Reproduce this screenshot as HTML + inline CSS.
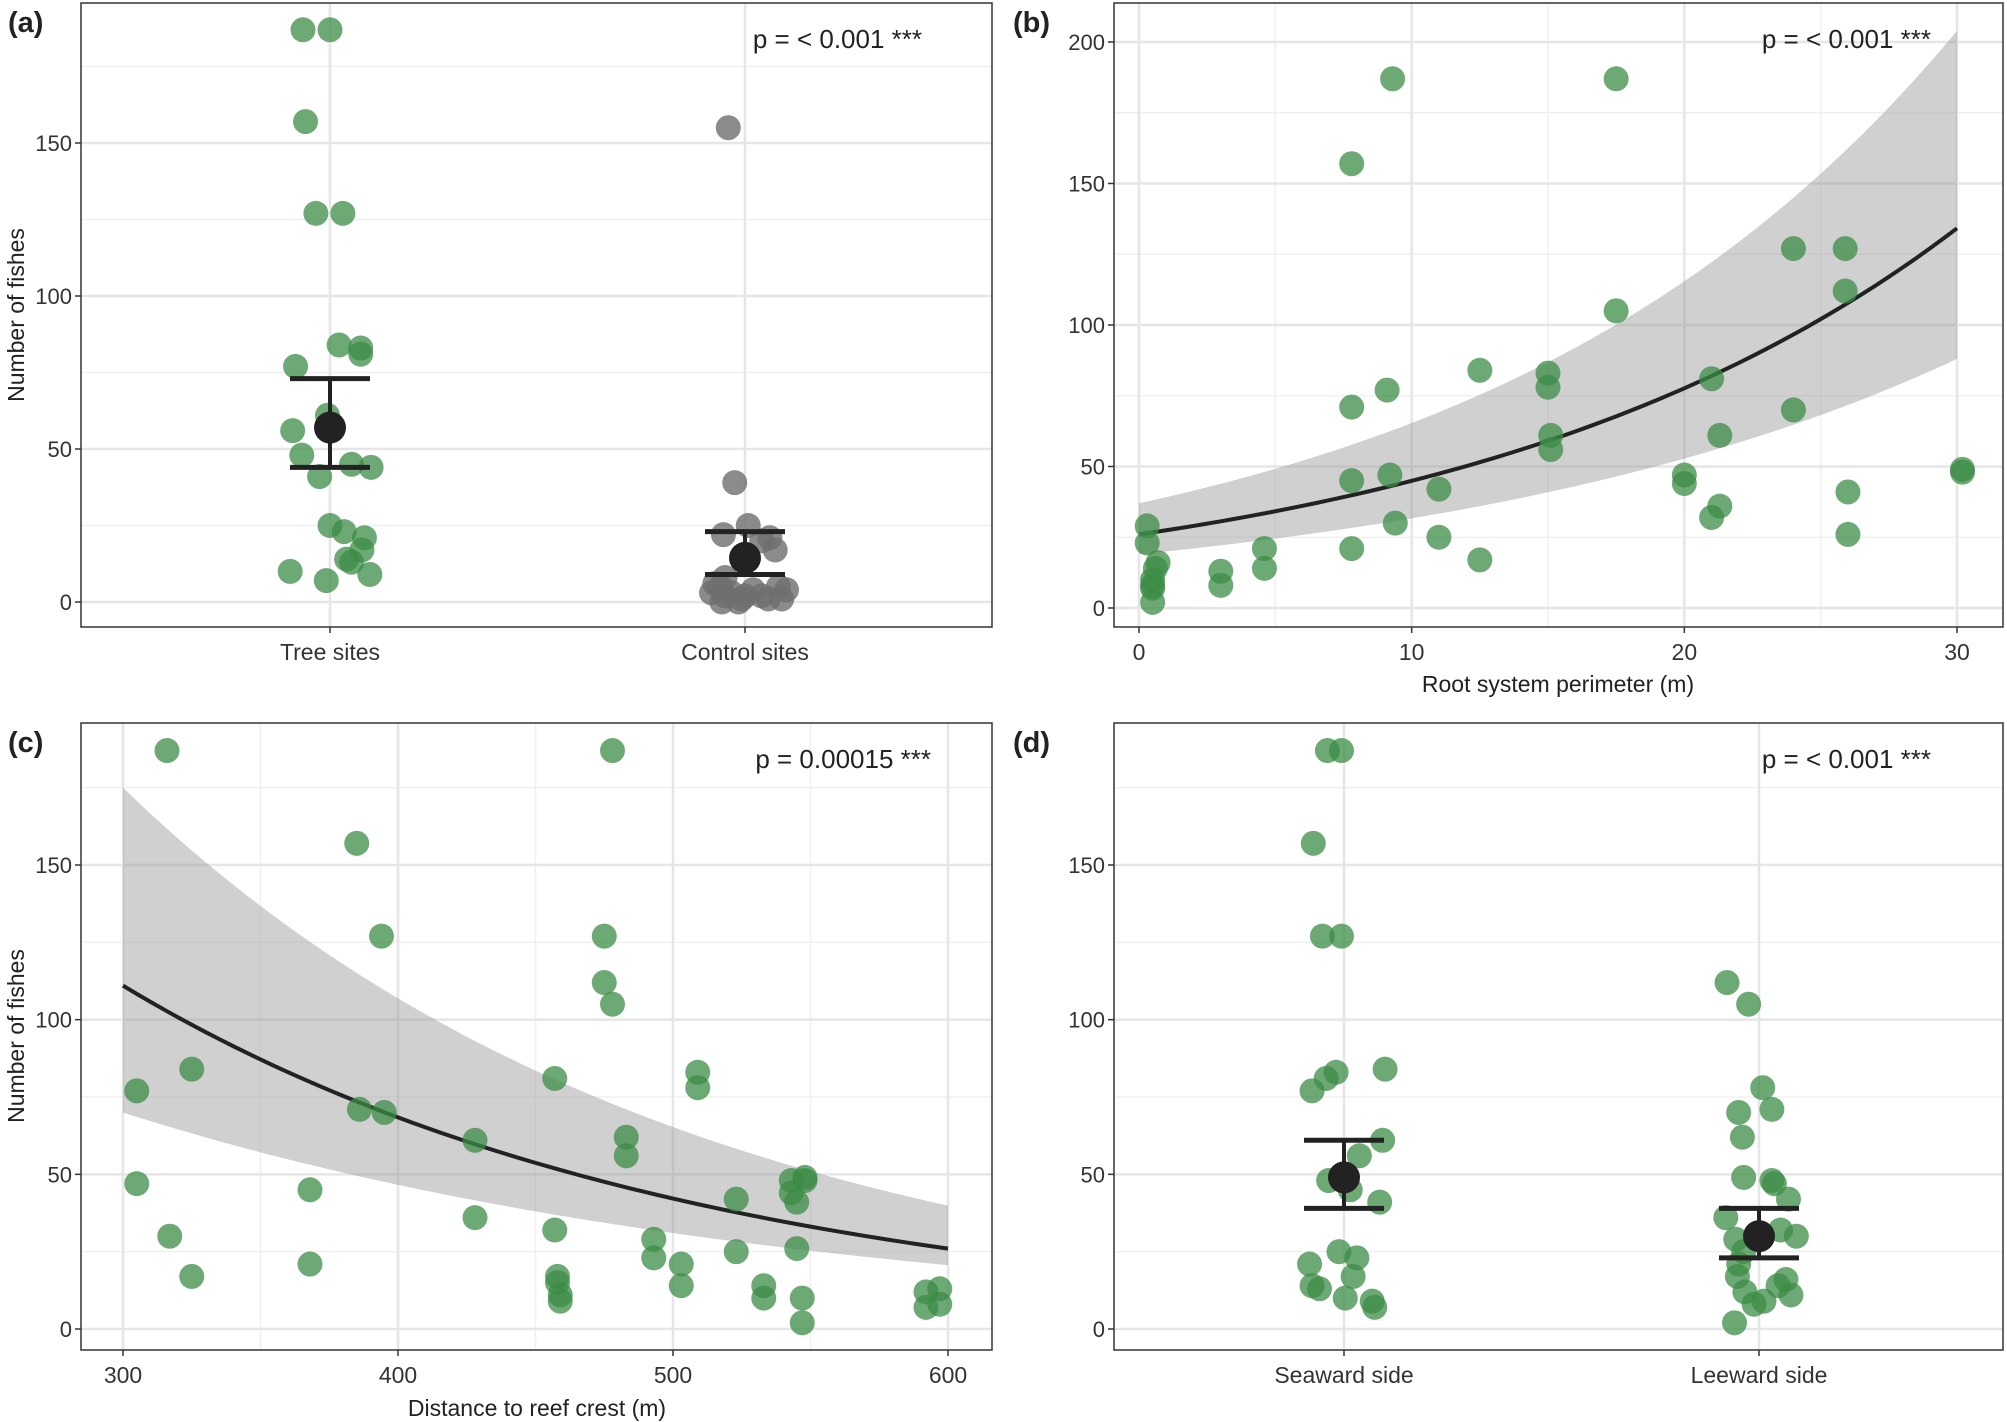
<!DOCTYPE html>
<html><head><meta charset="utf-8"><style>
body{margin:0;background:#fff}
svg{display:block;font-family:"Liberation Sans",sans-serif}
</style></head><body>
<svg id="fig" width="2007" height="1422" viewBox="0 0 2007 1422"></svg>
<script>
// ---- data ----
const treeVals=[187,187,157,127,127,84,83,81,77,61,56,48,45,44,41,25,23,21,17,14,13,10,9,7];
const treeJit=[-.065,0,-.059,-.034,.031,.022,.074,.074,-.083,-.006,-.09,-.068,.052,.099,-.025,0,.034,.083,.077,.04,.052,-.096,.096,-.009];
const ctrlVals=[155,39,25,22,21,20,17,8,5,5,4,3,3,2,2,2,1,1,0,0,1,4,6];
const ctrlJit=[-.031,-.019,.006,-.04,.046,.031,.056,-.037,-.046,.062,.015,-.062,-.025,.031,0,-.037,.043,.068,-.043,-.012,-.006,.077,-.056];
const treeStats=[57,44,73]; const ctrlStats=[14.4,9,23];
const rootX=[0.3,0.3,0.7,0.6,0.5,0.5,0.5,0.5,3,3,4.6,4.6,7.8,7.8,7.8,7.8,9.3,9.1,9.2,9.4,11,11,12.5,12.5,15,15,15.1,15.1,17.5,17.5,20,20,21,21,21.3,21.3,24,24,25.9,25.9,26,26,30.2,30.2];
const rootY=[29,23,16,14,10,8,7,2,13,8,21,14,157,71,45,21,187,77,47,30,42,25,84,17,83,78,61,56,187,105,47,44,81,32,61,36,127,70,127,112,41,26,49,48];
const rootFit=[26,0.0547]; const rootLo=[19,0.0511]; const rootHi=[37,0.0569];
const distX=[305,305,316,317,325,325,368,368,385,386,394,395,428,428,457,457,458,458,459,459,475,475,478,478,483,483,493,493,503,503,509,509,523,523,533,533,543,543,545,545,547,547,548,548,592,592,597,597];
const distY=[77,47,187,30,84,17,45,21,157,71,127,70,61,36,81,32,17,15,11,9,127,112,187,105,62,56,29,23,21,14,83,78,42,25,14,10,48,44,41,26,10,2,49,48,12,7,13,8];
const distFit=[111,-0.00484]; const distLo=[70,-0.00407]; const distHi=[175,-0.00493];
const seaVals=[187,187,157,127,127,84,83,81,77,61,56,48,45,41,25,23,21,17,14,13,10,9,7];
const seaJit=[-.04,-.006,-.074,-.052,-.006,.099,-.019,-.043,-.077,.093,.037,-.037,.015,.086,-.012,.031,-.083,.022,-.077,-.059,.003,.068,.074];
const leeVals=[112,105,78,71,70,62,49,48,47,42,36,32,30,29,25,21,17,16,14,12,11,9,8,2];
const leeJit=[-.077,-.025,.009,.031,-.049,-.04,-.037,.031,.037,.071,-.08,.052,.09,-.056,-.037,-.049,-.052,.065,.046,-.034,.077,.012,-.012,-.059];
const seaStats=[49,39,61]; const leeStats=[30,23,39];

const NS="http://www.w3.org/2000/svg"; const svg=document.getElementById('fig');
function el(t,a,p){const e=document.createElementNS(NS,t);for(const k in a)e.setAttribute(k,a[k]);(p||svg).appendChild(e);return e;}
function txt(s,a,p){const e=el('text',a,p);e.textContent=s;return e;}
const GREEN='rgba(60,140,70,0.75)', GRAY='rgba(110,110,110,0.8)';

function panel(name,L,R,T,B,x0,x1,xmin,xmax,y0,y1,ymin,ymax){
  const g=el('g',{});
  const sx=v=>x0+(v-xmin)*(x1-x0)/(xmax-xmin);
  const sy=v=>y0+(v-ymin)*(y1-y0)/(ymax-ymin);
  return {g,sx,sy,L,R,T,B};
}
function frame(P,yt,ymn,xt,xmn,xl){
  const {g,sx,sy,L,R,T,B}=P;
  ymn.forEach(v=>el('line',{x1:L,x2:R,y1:sy(v),y2:sy(v),stroke:'#f0f0f0','stroke-width':1.5},g));
  xmn.forEach(v=>el('line',{x1:sx(v),x2:sx(v),y1:T,y2:B,stroke:'#f0f0f0','stroke-width':1.5},g));
  yt.forEach(v=>{el('line',{x1:L,x2:R,y1:sy(v),y2:sy(v),stroke:'#e6e6e6','stroke-width':2.5},g);
    el('line',{x1:L-6,x2:L,y1:sy(v),y2:sy(v),stroke:'#333','stroke-width':1.5},g);
    const t=txt(String(v),{x:L-9,y:sy(v)+8,'text-anchor':'end','font-size':22,fill:'#333'},g);
    });
  xt.forEach((v,i)=>{el('line',{x1:sx(v),x2:sx(v),y1:T,y2:B,stroke:'#e6e6e6','stroke-width':2.5},g);
    el('line',{x1:sx(v),x2:sx(v),y1:B,y2:B+6,stroke:'#333','stroke-width':1.5},g);
    const t=txt(xl?xl[i]:String(v),{x:sx(v),y:B+33,'text-anchor':'middle','font-size':23,fill:'#333'},g);
    });
}
function border(P){el('rect',{x:P.L,y:P.T,width:P.R-P.L,height:P.B-P.T,fill:'none',stroke:'#333','stroke-width':1.5},P.g);}
function dots(P,xs,ys,col,nm){xs.forEach((x,i)=>{const c=el('circle',{cx:P.sx(x),cy:P.sy(ys[i]),r:12.5,fill:col},P.g);
  });}
function meanbar(P,cx,st){const g=P.g;const x=P.sx(cx);
  el('line',{x1:x,x2:x,y1:P.sy(st[1]),y2:P.sy(st[2]),stroke:'#222','stroke-width':4},g);
  [st[1],st[2]].forEach(v=>el('line',{x1:x-40,x2:x+40,y1:P.sy(v),y2:P.sy(v),stroke:'#222','stroke-width':5},g));
  const c=el('circle',{cx:x,cy:P.sy(st[0]),r:16,fill:'#222'},g);
  }
function fitcurve(P,xmin,xmax,fit,lo,hi,x0){
  const N=60,up=[],dn=[],ln=[];
  for(let i=0;i<=N;i++){const x=xmin+(xmax-xmin)*i/N;const d=x-x0;
    up.push(P.sx(x)+','+P.sy(hi[0]*Math.exp(hi[1]*d)));dn.push(P.sx(x)+','+P.sy(lo[0]*Math.exp(lo[1]*d)));
    ln.push(P.sx(x)+','+P.sy(fit[0]*Math.exp(fit[1]*d)));}
  const b=el('polygon',{points:up.concat(dn.reverse()).join(' '),fill:'rgba(150,150,150,0.45)'},P.g);
  
  const l=el('polyline',{points:ln.join(' '),fill:'none',stroke:'#222','stroke-width':4},P.g);
  }
function label(s,x,y){const t=txt(s,{x:x,y:y,'font-size':29,'font-weight':'bold',fill:'#222'});
  }
function ptext(s,x,y){const t=txt(s,{x:x,y:y,'font-size':26,fill:'#222','text-anchor':'end'});
  }
function ytitle(x,y){const t=txt('Number of fishes',{x:0,y:0,'font-size':23,fill:'#222','text-anchor':'middle',transform:`translate(${x},${y}) rotate(-90)`});
  }
function xtitle(s,x,y){const t=txt(s,{x:x,y:y,'font-size':23,fill:'#222','text-anchor':'middle'});
  }

// (a)
let A=panel('panel-a',81,992,3,627,330,745,1,2,602,143,0,150);
frame(A,[0,50,100,150],[25,75,125,175],[1,2],[],['Tree sites','Control sites']);
dots(A,treeJit.map(j=>1+j),treeVals,GREEN,'tree-site-point');
dots(A,ctrlJit.map(j=>2+j*1.3),ctrlVals,GRAY,'control-site-point');
meanbar(A,1,treeStats);meanbar(A,2,ctrlStats);border(A);
label('(a)',8,32);ptext('p = < 0.001 ***',922,48);ytitle(24,315);

// (b)
let Bp=panel('panel-b',1114,2003,3,627,1139,1957,0,30,608,42,0,200);
frame(Bp,[0,50,100,150,200],[25,75,125,175],[0,10,20,30],[5,15,25]);
fitcurve(Bp,0,30,rootFit,rootLo,rootHi,0);
dots(Bp,rootX,rootY,GREEN,'root-point');border(Bp);
label('(b)',1013,32);ptext('p = < 0.001 ***',1931,48);xtitle('Root system perimeter (m)',1558,692);

// (c)
let C=panel('panel-c',81,992,723,1350,123,948,300,600,1329,865,0,150);
frame(C,[0,50,100,150],[25,75,125,175],[300,400,500,600],[350,450,550]);
fitcurve(C,300,600,distFit,distLo,distHi,300);
dots(C,distX,distY,GREEN,'distance-point');border(C);
label('(c)',8,752);ptext('p = 0.00015 ***',931,768);ytitle(24,1036);xtitle('Distance to reef crest (m)',537,1416);

// (d)
let D=panel('panel-d',1114,2003,723,1350,1344,1759,1,2,1329,865,0,150);
frame(D,[0,50,100,150],[25,75,125,175],[1,2],[],['Seaward side','Leeward side']);
dots(D,seaJit.map(j=>1+j),seaVals,GREEN,'seaward-point');
dots(D,leeJit.map(j=>2+j),leeVals,GREEN,'leeward-point');
meanbar(D,1,seaStats);meanbar(D,2,leeStats);border(D);
label('(d)',1013,752);ptext('p = < 0.001 ***',1931,768);
</script>
</body></html>
